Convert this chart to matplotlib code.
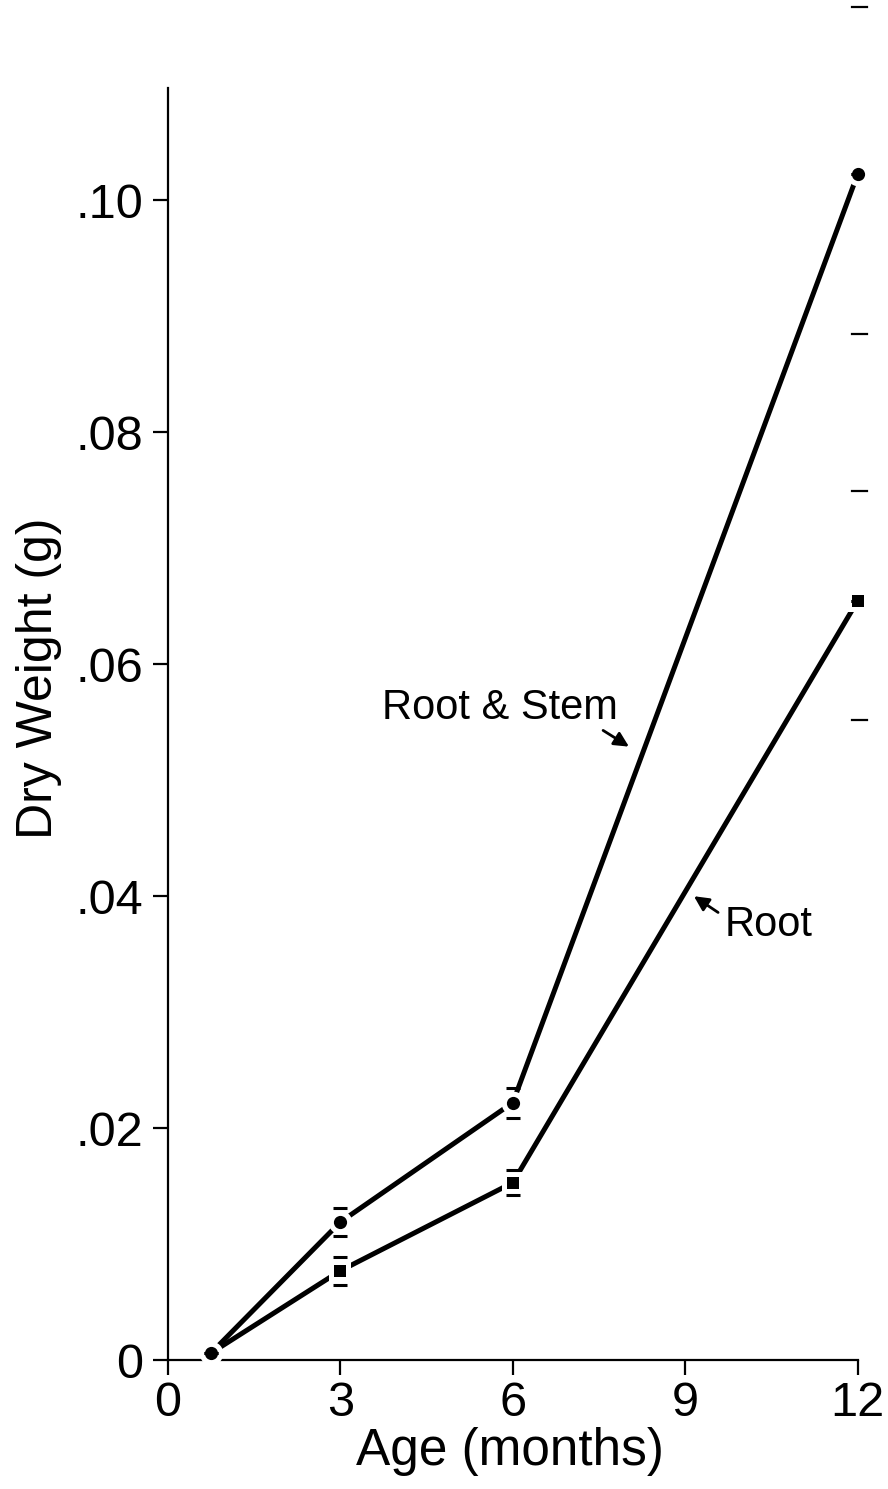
import numpy as np
import matplotlib
matplotlib.use("Agg")
import matplotlib.pyplot as plt
from matplotlib.lines import Line2D

plt.rcParams['font.family'] = ['Liberation Sans', 'DejaVu Sans']

# ── Data ───────────────────────────────────────────────
age_months = [0.75, 3, 6, 12]
root_stem = [0.0006, 0.0119, 0.0222, 0.1023]
root_stem_err = [0.0, 0.0012, 0.0013, 0.0]
root = [0.0006, 0.0077, 0.0153, 0.0655]
root_err = [0.0, 0.0012, 0.0011, 0.0]

x_ticks = [0, 3, 6, 9, 12]
y_ticks = [0, 0.02, 0.04, 0.06, 0.08, 0.10]
y_ticklabels = ['0', '.02', '.04', '.06', '.08', '.10']

# ── Figure ─────────────────────────────────────────────
fig = plt.figure(figsize=(8.88, 14.89), dpi=100)
ax = fig.add_axes([0.189, 0.0866, 0.777, 0.8543])

lw = 3.6
# lines, then a white halo around each marker so the lines stop short
ax.plot(age_months, root_stem, color='black', lw=lw, zorder=2, solid_capstyle='butt')
ax.plot(age_months, root, color='black', lw=lw, zorder=2, solid_capstyle='butt')
ax.plot(age_months, root_stem, 'o', color='white', ms=17, mew=0, zorder=3, clip_on=False)
ax.plot(age_months[1:], root[1:], 's', color='white', ms=16, mew=0, zorder=3, clip_on=False)

# error caps only
ax.errorbar(age_months, root_stem, yerr=root_stem_err, fmt='none', ecolor='black',
            elinewidth=0, capsize=5, capthick=2.2, zorder=4)
ax.errorbar(age_months[1:], root[1:], yerr=root_err[1:], fmt='none', ecolor='black',
            elinewidth=0, capsize=5, capthick=2.2, zorder=4)

ax.plot(age_months, root_stem, 'o', color='black', ms=9.5, mew=0, zorder=5, clip_on=False)
ax.plot(age_months[1:], root[1:], 's', color='black', ms=8.5, mew=0, zorder=5, clip_on=False)

# series labels with small arrows
ax.text(3.72, 0.0562, 'Root & Stem', fontsize=30, ha='left', va='center')
ax.annotate('', xy=(8.02, 0.0529), xytext=(7.57, 0.0543),
            arrowprops=dict(arrowstyle='-|>', color='black', lw=2,
                            mutation_scale=22, shrinkA=0, shrinkB=0))
ax.text(9.69, 0.0375, 'Root', fontsize=30, ha='left', va='center')
ax.annotate('', xy=(9.15, 0.0400), xytext=(9.57, 0.0386),
            arrowprops=dict(arrowstyle='-|>', color='black', lw=2,
                            mutation_scale=22, shrinkA=0, shrinkB=0))

# ── Axes styling ───────────────────────────────────────
ax.set_xlim(0, 12)
ax.set_ylim(0, 0.1097)
ax.set_xticks(x_ticks)
ax.set_xticklabels([str(t) for t in x_ticks])
ax.set_yticks(y_ticks)
ax.set_yticklabels(y_ticklabels)
ax.tick_params(axis='both', direction='out', length=11, width=1.6, labelsize=35)
ax.tick_params(axis='x', pad=4)
ax.tick_params(axis='y', pad=7)
for side in ['top', 'right']:
    ax.spines[side].set_visible(False)
for side in ['left', 'bottom']:
    ax.spines[side].set_linewidth(1.6)
ax.set_xlabel('Age (months)', fontsize=37)
ax.set_ylabel('Dry Weight (g)', fontsize=36)
ax.xaxis.set_label_coords(0.496, -0.0527)
ax.yaxis.set_label_coords(-0.154, 0.536)

# short register marks along the right margin
for yy in [7, 334, 491, 720]:
    fy = 1 - yy / 1489
    fig.add_artist(Line2D([852 / 888, 867 / 888], [fy, fy], color='black', lw=1.6))

fig.savefig('out.png', dpi=100, facecolor='white')
